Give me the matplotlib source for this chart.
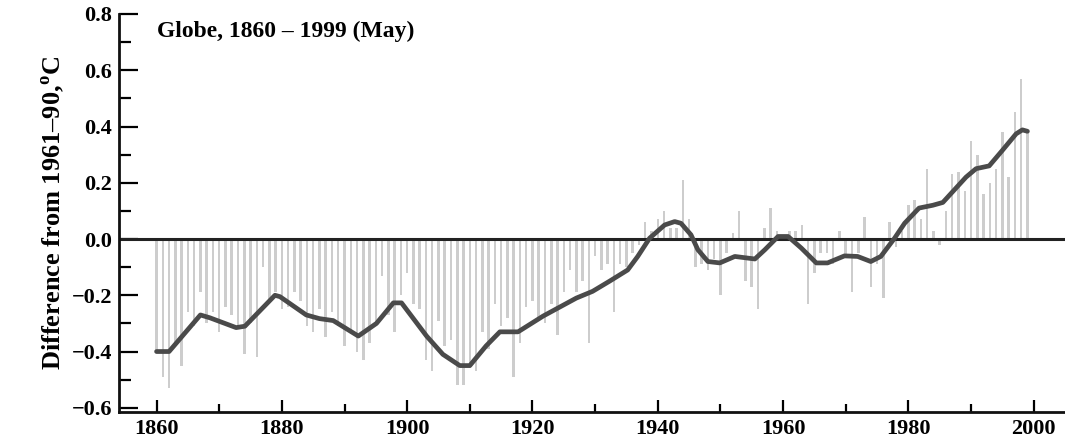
import matplotlib
matplotlib.use("Agg")
import matplotlib.pyplot as plt
from matplotlib.ticker import MultipleLocator

# yearly anomalies (May), deg C relative to 1961-90
years = list(range(1860, 2000))
anomaly = [
    -0.40, -0.49, -0.53, -0.37, -0.45, -0.26, -0.31, -0.19, -0.30, -0.26,
    -0.33, -0.24, -0.27, -0.31, -0.41, -0.30, -0.42, -0.10, -0.22, -0.19,
    -0.25, -0.24, -0.19, -0.22, -0.31, -0.33, -0.25, -0.35, -0.26, -0.31,
    -0.38, -0.33, -0.40, -0.43, -0.37, -0.31, -0.13, -0.27, -0.33, -0.20,
    -0.12, -0.23, -0.25, -0.43, -0.47, -0.29, -0.38, -0.36, -0.52, -0.52,
    -0.46, -0.47, -0.33, -0.39, -0.23, -0.31, -0.28, -0.49, -0.37, -0.24,
    -0.22, -0.29, -0.30, -0.23, -0.34, -0.19, -0.11, -0.19, -0.15, -0.37,
    -0.06, -0.11, -0.09, -0.26, -0.09, -0.10, -0.05, -0.02, 0.06, 0.03,
    0.07, 0.10, 0.04, 0.04, 0.21, 0.07, -0.10, -0.09, -0.11, -0.07,
    -0.20, -0.05, 0.02, 0.10, -0.15, -0.17, -0.25, 0.04, 0.11, 0.03,
    0.01, 0.03, 0.03, 0.05, -0.23, -0.12, -0.05, -0.05, -0.09, 0.03,
    -0.06, -0.19, -0.05, 0.08, -0.17, -0.09, -0.21, 0.06, -0.03, 0.03,
    0.12, 0.14, 0.07, 0.25, 0.03, -0.02, 0.10, 0.23, 0.24, 0.17,
    0.35, 0.30, 0.16, 0.20, 0.25, 0.38, 0.22, 0.45, 0.57, 0.38,
]

# smoothed curve
smooth_years = [
    1860, 1862, 1867, 1868.5, 1872.7, 1874.1, 1878.9, 1879.7, 1883.9, 1886,
    1888.2, 1892.2, 1895.1, 1897.8, 1899.1, 1903.1, 1905.7, 1908.4, 1910,
    1912.6, 1914.8, 1917.7, 1921.7, 1924.1, 1927, 1929.6, 1932.3, 1935.2,
    1936.8, 1938.7, 1941.1, 1942.7, 1943.7, 1945.3, 1946.4, 1948, 1949.9,
    1952.3, 1955.5, 1957.1, 1959.2, 1960.8, 1962.9, 1965.3, 1967.1, 1969.8,
    1971.9, 1974, 1975.6, 1977.8, 1979.4, 1981.7, 1983.9, 1985.5, 1989.2,
    1990.8, 1992.9, 1995, 1997.2, 1998.2, 1999,
]
smooth_vals = [
    -0.40, -0.40, -0.27, -0.28, -0.315, -0.31, -0.20, -0.205, -0.27, -0.283,
    -0.29, -0.345, -0.30, -0.227, -0.227, -0.345, -0.41, -0.45, -0.45,
    -0.38, -0.33, -0.33, -0.274, -0.245, -0.21, -0.186, -0.15, -0.11,
    -0.062, 0.003, 0.05, 0.062, 0.056, 0.015, -0.038, -0.08, -0.085,
    -0.062, -0.071, -0.038, 0.009, 0.009, -0.032, -0.085, -0.085, -0.06,
    -0.062, -0.08, -0.062, 0.003, 0.056, 0.11, 0.12, 0.13, 0.22,
    0.25, 0.26, 0.315, 0.374, 0.388, 0.383,
]

title = "Globe, 1860 \u2013 1999 (May)"
ylabel = "Difference from 1961\u201390,$^{\\rm o}$C"

plt.rcParams['font.family'] = ['Liberation Serif', 'DejaVu Serif']
plt.rcParams['font.weight'] = 'bold'
plt.rcParams['mathtext.fontset'] = 'custom'
plt.rcParams['mathtext.rm'] = 'Liberation Serif:bold'

fig = plt.figure(figsize=(10.65, 4.47), dpi=100)
ax = fig.add_axes([0.1117, 0.0783, 0.8883, 0.8904])

ax.bar(years, anomaly, width=0.4, color='#cdcdcd', zorder=1)
ax.axhline(0, color='#222222', lw=2.2, zorder=2)
ax.plot(smooth_years, smooth_vals, color='#4a4a4a', lw=3.4,
        solid_joinstyle='round', solid_capstyle='round', zorder=3)

ax.set_xlim(1854, 2005)
ax.set_ylim(-0.615, 0.8)

for s in ['top', 'right']:
    ax.spines[s].set_visible(False)
for s in ['left', 'bottom']:
    ax.spines[s].set_linewidth(2)
    ax.spines[s].set_color('#111111')

ax.xaxis.set_minor_locator(MultipleLocator(10))
ax.yaxis.set_minor_locator(MultipleLocator(0.1))
ax.set_xticks(range(1860, 2001, 20))
yticks = [-0.6, -0.4, -0.2, 0.0, 0.2, 0.4, 0.6, 0.8]
ax.set_yticks(yticks)
ax.set_yticklabels([f"{v:.1f}".replace('-', '\u2212') for v in yticks])

ax.tick_params(axis='y', which='major', direction='in', length=14, width=1.6,
               labelsize=16, pad=5)
ax.tick_params(axis='y', which='minor', direction='in', length=8.5, width=1.6)
ax.tick_params(axis='x', which='major', direction='in', length=9, width=1.6,
               labelsize=16, pad=5)
ax.tick_params(axis='x', which='minor', direction='in', length=6, width=1.6)

ax.set_ylabel(ylabel, fontsize=19, fontweight='bold', labelpad=3)
ax.text(0.04, 0.955, title, transform=ax.transAxes, fontsize=17,
        fontweight='bold', va='center', ha='left')

fig.savefig('out.png', dpi=100)
